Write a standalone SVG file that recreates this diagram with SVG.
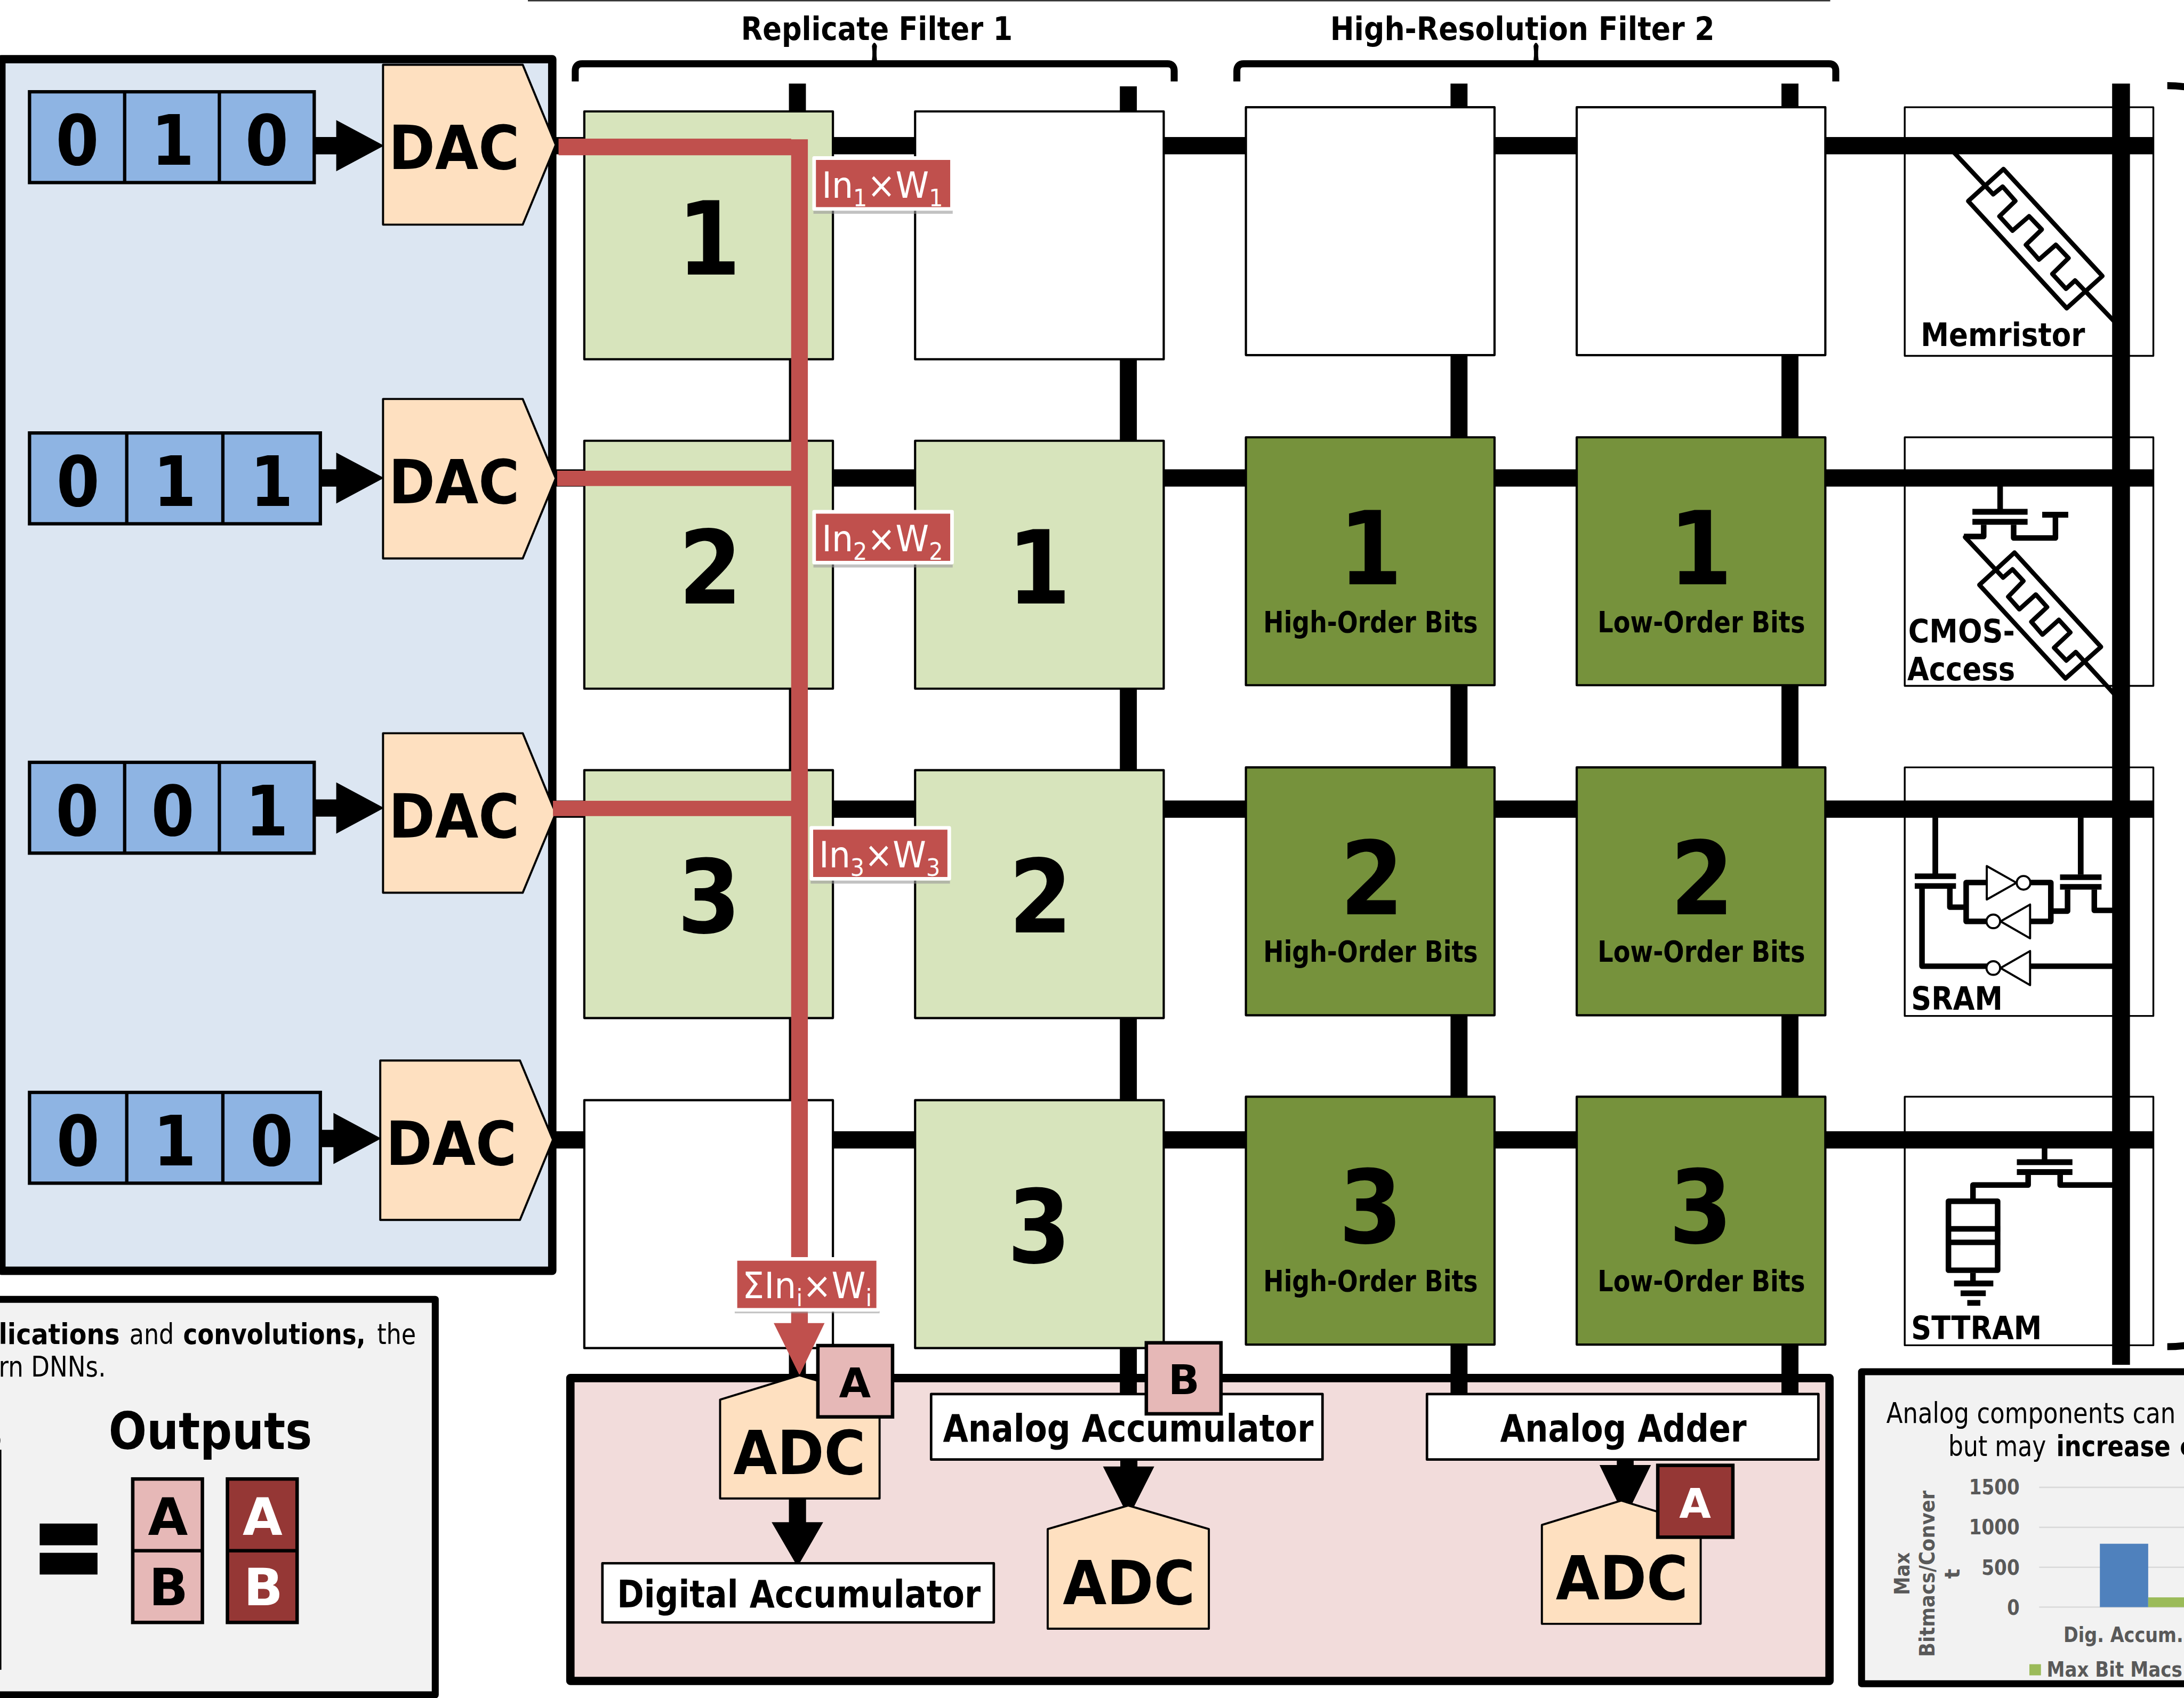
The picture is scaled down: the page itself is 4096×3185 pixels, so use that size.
<svg xmlns="http://www.w3.org/2000/svg" width="4096" height="3185" viewBox="0 0 4096 3185">
<style>
text{font-family:"DejaVu Sans","Liberation Sans",sans-serif;fill:#000}
.b{font-weight:700}
.w{fill:#fff}
.g{fill:#595959;font-weight:700;font-size:15px}
.c{text-anchor:middle}
.panel{stroke:#000;stroke-width:6;stroke-linejoin:round}
.dev{fill:#fff;stroke:#000;stroke-width:1.3;stroke-linejoin:round}
.cell{stroke:#000;stroke-width:1.6;stroke-linejoin:round}
.wht{fill:#fff}.lg{fill:#d7e4bc}.dg{fill:#76923c}
.num{font-size:73px;font-weight:700;text-anchor:middle}
.sm{font-size:21px;font-weight:700;text-anchor:middle}
.devt{font-size:23px;font-weight:700}
.reg{fill:#8eb4e3;stroke:#000;stroke-width:2.4}
.dig{font-size:49.5px;font-weight:700;text-anchor:middle}
.dac{fill:#fee0c0;stroke:#000;stroke-width:1.5;stroke-linejoin:round}
.dact{font-size:44px;font-weight:700}
.wire{fill:#000}
.sig{fill:#c0504d}
.lbl{fill:#c0504d;stroke:#fff;stroke-width:2.6;stroke-linejoin:round}
.sh{fill:#999;opacity:.6}
.lt{font-size:26px;fill:#fff}
.s{font-size:17px;fill:#fff}
.gl{fill:none;stroke:#000;stroke-width:3.2;stroke-linejoin:round;stroke-linecap:round}
.g4{fill:none;stroke:#000;stroke-width:4;stroke-linejoin:round}
.inv{fill:#fff;stroke:#000;stroke-width:1.5;stroke-linejoin:round}
.box{fill:#fff;stroke:#000;stroke-width:1.8;stroke-linejoin:round}
.bt{font-size:27px;font-weight:700}
.tag{stroke:#000;stroke-width:2.5}
.pk{fill:#e6b8b7}.dr{fill:#953735}
.tt{font-size:29.5px;font-weight:700;text-anchor:middle}
.ot{font-size:37px;font-weight:700;text-anchor:middle}
.rt{font-size:20.5px}
.brace{fill:none;stroke:#000;stroke-width:5}
.grid{stroke:#d9d9d9;stroke-width:1}
</style>
<g transform="scale(2.61224)">
<rect width="1568" height="1219.3" fill="#fff"/>
<rect x="379" y="0" width="935" height="1" fill="#333"/>

<g id="input-panel"><rect class="panel" x="1" y="42.5" width="395.5" height="870" fill="#dce6f2"/></g>
<g id="adc-panel"><rect class="panel" x="409.5" y="989.5" width="904" height="217.5" fill="#f2dcdb"/></g>
<g id="legend-panel"><rect class="panel" x="-10" y="933" width="322.5" height="284" fill="#f2f2f2" style="stroke-width:5"/></g>
<g id="chart-panel"><rect class="panel" x="1336.5" y="985" width="260" height="224" fill="#f2f2f2" style="stroke-width:5"/></g>

<g id="title-filter-1">
<text class="b" x="532" y="28.6" font-size="23" textLength="195" lengthAdjust="spacingAndGlyphs">Replicate Filter 1</text>
<path class="brace" d="M413 58.5V51Q413 45.8 418 45.8H838Q843 45.8 843 51V58.5"/>
<path d="M625.3 46Q627 41 626 33Q627.7 28.5 629.6 33Q628.7 41 630.3 46Z"/>
</g>
<g id="title-filter-2">
<text class="b" x="955" y="28.6" font-size="23" textLength="276" lengthAdjust="spacingAndGlyphs">High-Resolution Filter 2</text>
<path class="brace" d="M888 58.5V51Q888 45.8 893 45.8H1313Q1318 45.8 1318 51V58.5"/>
<path d="M1100.3 46Q1102 41 1101 33Q1102.7 28.5 1104.6 33Q1103.7 41 1105.3 46Z"/>
</g>
<g id="brace-right"><path class="brace" d="M1556 61.5Q1563 61.5 1570 62.5M1556 967Q1563 967 1570 966"/></g>

<g id="device-frames">
<rect class="dev" x="1367.5" y="77" width="178.5" height="178.5"/>
<rect class="dev" x="1367.5" y="314" width="178.5" height="178.5"/>
<rect class="dev" x="1367.5" y="551" width="178.5" height="178.5"/>
<rect class="dev" x="1367.5" y="787.5" width="178.5" height="178.5"/>
</g>

<g id="connectors">
<rect class="wire" x="398" y="98.4" width="1148" height="12.4"/>
<rect class="wire" x="398" y="337" width="1148" height="12.4"/>
<rect class="wire" x="398" y="574.8" width="1148" height="12.4"/>
<rect class="wire" x="398" y="812.3" width="1148" height="12.4"/>
<rect class="wire" x="566.4" y="60" width="12.2" height="930"/>
<rect class="wire" x="804" y="62" width="12.2" height="942"/>
<rect class="wire" x="1041.4" y="60" width="12.2" height="944"/>
<rect class="wire" x="1279" y="60" width="12.2" height="944"/>
<rect class="wire" x="1516.4" y="60" width="12.8" height="920"/>
</g>

<g id="cell-c1r1"><rect class="cell lg" x="419.5" y="80" width="178.5" height="178"/><text class="num" x="509" y="197" textLength="45.7" lengthAdjust="spacingAndGlyphs">1</text></g>
<g id="cell-c1r2"><rect class="cell lg" x="419.5" y="316.5" width="178.5" height="178"/><text class="num" x="510" y="433.5" textLength="45.7" lengthAdjust="spacingAndGlyphs">2</text></g>
<g id="cell-c1r3"><rect class="cell lg" x="419.5" y="553" width="178.5" height="178"/><text class="num" x="509" y="669.5" textLength="45.7" lengthAdjust="spacingAndGlyphs">3</text></g>
<g id="cell-c1r4"><rect class="cell wht" x="419.5" y="790" width="178.5" height="178"/></g>
<g id="cell-c2r1"><rect class="cell wht" x="657" y="80" width="178.5" height="178"/></g>
<g id="cell-c2r2"><rect class="cell lg" x="657" y="316.5" width="178.5" height="178"/><text class="num" x="746" y="433.5" textLength="45.7" lengthAdjust="spacingAndGlyphs">1</text></g>
<g id="cell-c2r3"><rect class="cell lg" x="657" y="553" width="178.5" height="178"/><text class="num" x="747" y="669.5" textLength="45.7" lengthAdjust="spacingAndGlyphs">2</text></g>
<g id="cell-c2r4"><rect class="cell lg" x="657" y="790" width="178.5" height="178"/><text class="num" x="746" y="906.5" textLength="45.7" lengthAdjust="spacingAndGlyphs">3</text></g>
<g id="cell-c3r1"><rect class="cell wht" x="894.5" y="77" width="178.5" height="178"/></g>
<g id="cell-c3r2"><rect class="cell dg" x="894.5" y="314" width="178.5" height="178"/><text class="num" x="984" y="419.5" textLength="45.7" lengthAdjust="spacingAndGlyphs">1</text><text class="sm" x="984" y="454" textLength="154" lengthAdjust="spacingAndGlyphs">High-Order Bits</text></g>
<g id="cell-c3r3"><rect class="cell dg" x="894.5" y="551" width="178.5" height="178"/><text class="num" x="985" y="656.5" textLength="45.7" lengthAdjust="spacingAndGlyphs">2</text><text class="sm" x="984" y="690.5" textLength="154" lengthAdjust="spacingAndGlyphs">High-Order Bits</text></g>
<g id="cell-c3r4"><rect class="cell dg" x="894.5" y="787.5" width="178.5" height="178"/><text class="num" x="984" y="892.5" textLength="45.7" lengthAdjust="spacingAndGlyphs">3</text><text class="sm" x="984" y="927" textLength="154" lengthAdjust="spacingAndGlyphs">High-Order Bits</text></g>
<g id="cell-c4r1"><rect class="cell wht" x="1132" y="77" width="178.5" height="178"/></g>
<g id="cell-c4r2"><rect class="cell dg" x="1132" y="314" width="178.5" height="178"/><text class="num" x="1221" y="419.5" textLength="45.7" lengthAdjust="spacingAndGlyphs">1</text><text class="sm" x="1221.5" y="454" textLength="149" lengthAdjust="spacingAndGlyphs">Low-Order Bits</text></g>
<g id="cell-c4r3"><rect class="cell dg" x="1132" y="551" width="178.5" height="178"/><text class="num" x="1222" y="656.5" textLength="45.7" lengthAdjust="spacingAndGlyphs">2</text><text class="sm" x="1221.5" y="690.5" textLength="149" lengthAdjust="spacingAndGlyphs">Low-Order Bits</text></g>
<g id="cell-c4r4"><rect class="cell dg" x="1132" y="787.5" width="178.5" height="178"/><text class="num" x="1221" y="892.5" textLength="45.7" lengthAdjust="spacingAndGlyphs">3</text><text class="sm" x="1221.5" y="927" textLength="149" lengthAdjust="spacingAndGlyphs">Low-Order Bits</text></g>

<g id="device-memristor">
<path class="gl" d="M1438.4 121.4L1509.4 198.2L1483.8 221.3L1413.1 144.4Z"/>
<path class="gl" d="M1402.9 109.5L1431 139.5L1437.8 134L1446.9 144.3L1435.5 155.3L1444.9 165.6L1456.8 155.3L1465.9 164.8L1454.5 175.8L1463.9 186.4L1476 175.8L1485.1 185.3L1473.5 196.7L1483.3 207.4L1489.8 201.4L1518.2 231.1"/>
<text class="devt" x="1379" y="248.4" textLength="118" lengthAdjust="spacingAndGlyphs">Memristor</text>
</g>
<g id="device-cmos">
<path class="gl" d="M1446.3 396.8L1508.4 464.5L1482.9 487.2L1421.1 420Z"/>
<path class="gl" d="M1410.8 385.7L1438.1 414.7L1444.9 408.8L1452.7 417.2L1441.8 428.5L1449.8 437.5L1461.6 426.9L1469.7 435.9L1458.4 446.5L1466.4 455.7L1478.2 445.1L1486.4 454.1L1474.7 465.1L1483.5 474.3L1490.3 468.2L1517.9 498.3"/>
<rect x="1434" y="349" width="4" height="17"/>
<rect x="1416.1" y="365.4" width="39.6" height="4.2"/>
<rect x="1416.1" y="372.6" width="39.6" height="4.2"/>
<path class="g4" d="M1424.2 376.8V385.2H1410M1445.7 376.8V386.3H1475.7V371.7"/>
<rect x="1466.2" y="367.5" width="18.7" height="4.2"/>
<text class="devt" x="1370" y="461.3" textLength="76.6" lengthAdjust="spacingAndGlyphs">CMOS-</text>
<text class="devt" x="1369.3" y="488.6" textLength="77.4" lengthAdjust="spacingAndGlyphs">Access</text>
</g>
<g id="device-sram">
<rect x="1387.4" y="587" width="4.1" height="41"/>
<rect x="1491.8" y="587" width="4.1" height="41"/>
<rect x="1374.7" y="627.2" width="29.6" height="4"/>
<rect x="1374.7" y="634.2" width="29.6" height="4"/>
<rect x="1479" y="627.9" width="29.8" height="4"/>
<rect x="1479" y="634.8" width="29.8" height="4"/>
<path class="g4" d="M1379.9 638V693.8H1428M1399.9 638V651.4H1411.6M1426 633.7H1411.6V661.6H1428M1457 633.7H1472.4V661.6H1458M1484.4 638.7V654.2H1472.4M1503.6 638.7V653.7H1517M1458 693.8H1517"/>
<path class="inv" d="M1426.4 621.9V645.9L1447.7 633.9Z"/><circle class="inv" cx="1452.8" cy="633.9" r="4.9"/>
<path class="inv" d="M1457.5 649.5V673.8L1436.3 661.6Z"/><circle class="inv" cx="1431.1" cy="661.6" r="4.9"/>
<path class="inv" d="M1457.5 682.9V707.4L1436.3 695.1Z"/><circle class="inv" cx="1431.1" cy="695.1" r="4.9"/>
<text class="devt" x="1372.1" y="725.2" textLength="65.7" lengthAdjust="spacingAndGlyphs">SRAM</text>
</g>
<g id="device-sttram">
<rect x="1465.9" y="824" width="4" height="9"/>
<rect x="1448" y="832.4" width="39.9" height="4.2"/>
<rect x="1448" y="839.5" width="39.9" height="4.2"/>
<path class="g4" d="M1456.1 843.6V850.9H1416.5V860.6M1479.1 843.6V850.9H1517"/>
<rect class="g4" x="1398.9" y="862.6" width="35.3" height="49.5" style="fill:#fff"/>
<path class="g4" d="M1397 882.4H1436M1397 892.1H1436M1416.5 914V920"/>
<rect x="1402.9" y="919.5" width="28.2" height="4.2"/>
<rect x="1407.6" y="926.6" width="18.1" height="4.1"/>
<rect x="1412.4" y="933.5" width="9.4" height="4.1"/>
<text class="devt" x="1372.1" y="961.5" textLength="93.8" lengthAdjust="spacingAndGlyphs">STTRAM</text>
</g>

<g id="input-arrows" class="wire">
<path d="M226 98.4H241.4V86.2L275.7 104.6L241.4 123V110.8H226Z"/>
<path d="M230 337H241.4V325L275.7 343.2L241.4 361.6V349.4H230Z"/>
<path d="M226 574H241.4V561.8L275.7 580.2L241.4 598.6V586.4H226Z"/>
<path d="M230 811.3H239.4V799.1L273.7 817.5L239.4 835.9V823.7H230Z"/>
</g>

<g id="register-1"><rect class="reg" x="21.2" y="65.9" width="204.4" height="65.2"/><path class="reg" d="M89.5 66V131M157.5 66V131"/><text class="dig" x="55.5" y="118.3" textLength="31" lengthAdjust="spacingAndGlyphs">0</text><text class="dig" x="124" y="118.3" textLength="31" lengthAdjust="spacingAndGlyphs">1</text><text class="dig" x="191.6" y="118.3" textLength="31" lengthAdjust="spacingAndGlyphs">0</text></g>
<g id="register-2"><rect class="reg" x="21.2" y="310.9" width="208.8" height="65.2"/><path class="reg" d="M91 311V376M160 311V376"/><text class="dig" x="56" y="363.3" textLength="31" lengthAdjust="spacingAndGlyphs">0</text><text class="dig" x="125.5" y="363.3" textLength="31" lengthAdjust="spacingAndGlyphs">1</text><text class="dig" x="195" y="363.3" textLength="31" lengthAdjust="spacingAndGlyphs">1</text></g>
<g id="register-3"><rect class="reg" x="21.2" y="547.4" width="204.4" height="65.2"/><path class="reg" d="M89.5 547.5V612.5M157.5 547.5V612.5"/><text class="dig" x="55.5" y="599.8" textLength="31" lengthAdjust="spacingAndGlyphs">0</text><text class="dig" x="124" y="599.8" textLength="31" lengthAdjust="spacingAndGlyphs">0</text><text class="dig" x="191.6" y="599.8" textLength="31" lengthAdjust="spacingAndGlyphs">1</text></g>
<g id="register-4"><rect class="reg" x="21.2" y="784.4" width="208.8" height="65.2"/><path class="reg" d="M91 784.5V849.5M160 784.5V849.5"/><text class="dig" x="56" y="836.8" textLength="31" lengthAdjust="spacingAndGlyphs">0</text><text class="dig" x="125.5" y="836.8" textLength="31" lengthAdjust="spacingAndGlyphs">1</text><text class="dig" x="195" y="836.8" textLength="31" lengthAdjust="spacingAndGlyphs">0</text></g>

<g id="dac-1"><path class="dac" d="M275 46.5H375.3L399 104L375.3 161.3H275Z"/><text class="dact" x="279" y="121.3" textLength="94" lengthAdjust="spacingAndGlyphs">DAC</text></g>
<g id="dac-2"><path class="dac" d="M275 286.5H375.3L399 343.5L375.3 401H275Z"/><text class="dact" x="279" y="361.3" textLength="94" lengthAdjust="spacingAndGlyphs">DAC</text></g>
<g id="dac-3"><path class="dac" d="M275 526.5H375.3L399 584L375.3 641H275Z"/><text class="dact" x="279" y="601.3" textLength="94" lengthAdjust="spacingAndGlyphs">DAC</text></g>
<g id="dac-4"><path class="dac" d="M273 761.5H373.3L397 818.5L373.3 876H273Z"/><text class="dact" x="277" y="836.3" textLength="94" lengthAdjust="spacingAndGlyphs">DAC</text></g>

<g id="connectors-signal" class="sig">
<path d="M401 99.5H568V100H580V950H592L574 987.5L555.5 950H568V111.5H401Z"/>
<rect x="400" y="338" width="170" height="11"/>
<rect x="397" y="575" width="173" height="11"/>
</g>
<g id="label-1"><rect class="sh" x="584" y="116" width="100" height="37.5"/><rect class="lbl" x="584.5" y="113.5" width="99" height="36.5"/><text class="lt" x="590" y="142" textLength="87" lengthAdjust="spacingAndGlyphs">In<tspan class="s" dy="6">1</tspan><tspan dy="-6">×W</tspan><tspan class="s" dy="6">1</tspan></text></g>
<g id="label-2"><rect class="sh" x="584" y="370" width="100" height="37.5"/><rect class="lbl" x="584.5" y="367.5" width="99" height="36.5"/><text class="lt" x="590" y="396" textLength="87" lengthAdjust="spacingAndGlyphs">In<tspan class="s" dy="6">2</tspan><tspan dy="-6">×W</tspan><tspan class="s" dy="6">2</tspan></text></g>
<g id="label-3"><rect class="sh" x="582" y="597" width="100" height="37.5"/><rect class="lbl" x="582.5" y="594.5" width="99" height="36.5"/><text class="lt" x="588" y="623" textLength="87" lengthAdjust="spacingAndGlyphs">In<tspan class="s" dy="6">3</tspan><tspan dy="-6">×W</tspan><tspan class="s" dy="6">3</tspan></text></g>
<g id="label-sum"><rect class="sh" x="527.5" y="906" width="104" height="37"/><rect class="lbl" x="528" y="904" width="102.5" height="36.5"/><text class="lt" x="533" y="932" textLength="93" lengthAdjust="spacingAndGlyphs">ΣIn<tspan class="s" dy="6">i</tspan><tspan dy="-6">×W</tspan><tspan class="s" dy="6">i</tspan></text></g>

<g id="output-arrows" class="wire">
<path d="M566.4 1076H578.7V1093H591L572.6 1125L554 1093H566.4Z"/>
<path d="M804.3 1047H816.6V1053H828.7L810.3 1089.5L791.9 1053H804.3Z"/>
<path d="M1160.8 1047H1172.9V1052H1185.3L1166.8 1090L1148.4 1052H1160.8Z"/>
</g>
<g id="adc-1"><path class="dac" d="M517 1005L574 987.5L631.5 1005V1076H517Z"/><text class="dact" x="526.5" y="1058.5" textLength="95" lengthAdjust="spacingAndGlyphs">ADC</text></g>
<g id="tag-a1"><rect class="tag pk" x="587.2" y="966.2" width="53.6" height="51.2"/><text class="tt" x="613.8" y="1003.2">A</text></g>
<g id="digital-accumulator"><rect class="box" x="432.5" y="1122.5" width="281" height="42.5"/><text class="bt" x="443" y="1154" textLength="261" lengthAdjust="spacingAndGlyphs">Digital Accumulator</text></g>
<g id="analog-accumulator"><rect class="box" x="668.5" y="1001" width="281" height="47"/><text class="bt" x="677" y="1035" textLength="266" lengthAdjust="spacingAndGlyphs">Analog Accumulator</text></g>
<g id="tag-b"><rect class="tag pk" x="823" y="964.2" width="53.6" height="51"/><text class="tt" x="850" y="1001">B</text></g>
<g id="analog-adder"><rect class="box" x="1024.5" y="1001" width="281" height="47"/><text class="bt" x="1077" y="1035" textLength="177" lengthAdjust="spacingAndGlyphs">Analog Adder</text></g>
<g id="adc-2"><path class="dac" d="M752.2 1098L810 1081L867.9 1098V1169.5H752.2Z"/><text class="dact" x="763" y="1152" textLength="95" lengthAdjust="spacingAndGlyphs">ADC</text></g>
<g id="adc-3"><path class="dac" d="M1107 1095L1164 1077.5L1221 1095V1166H1107Z"/><text class="dact" x="1117" y="1148.5" textLength="95" lengthAdjust="spacingAndGlyphs">ADC</text></g>
<g id="tag-a2"><rect class="tag dr" x="1190.2" y="1052.2" width="53.9" height="51.6"/><text class="tt w" x="1217" y="1089.8">A</text></g>

<g id="legend-text">
<text class="b" x="-14" y="965" font-size="20.5" textLength="100" lengthAdjust="spacingAndGlyphs">plications</text>
<text x="92.9" y="965" font-size="20.5" textLength="32" lengthAdjust="spacingAndGlyphs">and</text>
<text class="b" x="131.5" y="965" font-size="20.5" textLength="131" lengthAdjust="spacingAndGlyphs">convolutions,</text>
<text x="270.7" y="965" font-size="20.5" textLength="28" lengthAdjust="spacingAndGlyphs">the</text>
<text x="-1" y="988.4" font-size="20.5" textLength="77" lengthAdjust="spacingAndGlyphs">rn DNNs.</text>
<text class="b" x="2" y="1040.6" font-size="37" text-anchor="end">s</text>
<rect x="0" y="1041" width="1" height="158"/>
<text class="b" x="78" y="1040.6" font-size="37" textLength="146" lengthAdjust="spacingAndGlyphs">Outputs</text>
<rect x="28.5" y="1094" width="41.5" height="15.6"/>
<rect x="28.5" y="1115" width="41.5" height="15.6"/>
</g>
<g id="outputs-light"><rect class="tag pk" x="95.3" y="1062" width="50" height="103"/><path class="tag" d="M95 1113.5H146"/><text class="ot" x="120.5" y="1102">A</text><text class="ot" x="121" y="1152.6">B</text></g>
<g id="outputs-dark"><rect class="tag dr" x="163.3" y="1062" width="50" height="103"/><path class="tag" d="M163 1113.5H214"/><text class="ot w" x="188.5" y="1102">A</text><text class="ot w" x="189" y="1152.6">B</text></g>

<g id="chart">
<text class="rt" x="1354.3" y="1021.7" textLength="207.7" lengthAdjust="spacingAndGlyphs">Analog components can</text>
<text class="rt" x="1398.8" y="1045.4" textLength="70.2" lengthAdjust="spacingAndGlyphs">but may</text>
<text class="rt b" x="1476.3" y="1045.4" textLength="82" lengthAdjust="spacingAndGlyphs">increase</text>
<text class="rt b" x="1564.8" y="1045.4">c</text>
<path class="grid" d="M1464 1068H1568M1464 1096.7H1568M1464 1125.4H1568M1464 1154H1568"/>
<rect x="1507.6" y="1108.5" width="34.7" height="45.5" fill="#4f81bd"/>
<rect x="1542.3" y="1147" width="26" height="7" fill="#9bbb59"/>
<text class="g" x="1450" y="1073" text-anchor="end" textLength="36.4" lengthAdjust="spacingAndGlyphs">1500</text>
<text class="g" x="1450" y="1101.6" text-anchor="end" textLength="36.4" lengthAdjust="spacingAndGlyphs">1000</text>
<text class="g" x="1450" y="1130.7" text-anchor="end" textLength="27.4" lengthAdjust="spacingAndGlyphs">500</text>
<text class="g" x="1450" y="1159.5" text-anchor="end" textLength="9" lengthAdjust="spacingAndGlyphs">0</text>
<text class="g c" transform="translate(1371 1130) rotate(-90)" textLength="30.7" lengthAdjust="spacingAndGlyphs">Max</text>
<text class="g c" transform="translate(1389 1130) rotate(-90)" textLength="119.5" lengthAdjust="spacingAndGlyphs">Bitmacs/Conver</text>
<text class="g c" transform="translate(1407 1130) rotate(-90)">t</text>
<text class="g" x="1481.5" y="1179" textLength="86" lengthAdjust="spacingAndGlyphs">Dig. Accum.</text>
<rect x="1457" y="1195" width="8.3" height="8" fill="#9bbb59"/>
<text class="g" x="1469.4" y="1204" textLength="97.4" lengthAdjust="spacingAndGlyphs">Max Bit Macs</text>
</g>
</g>
</svg>
